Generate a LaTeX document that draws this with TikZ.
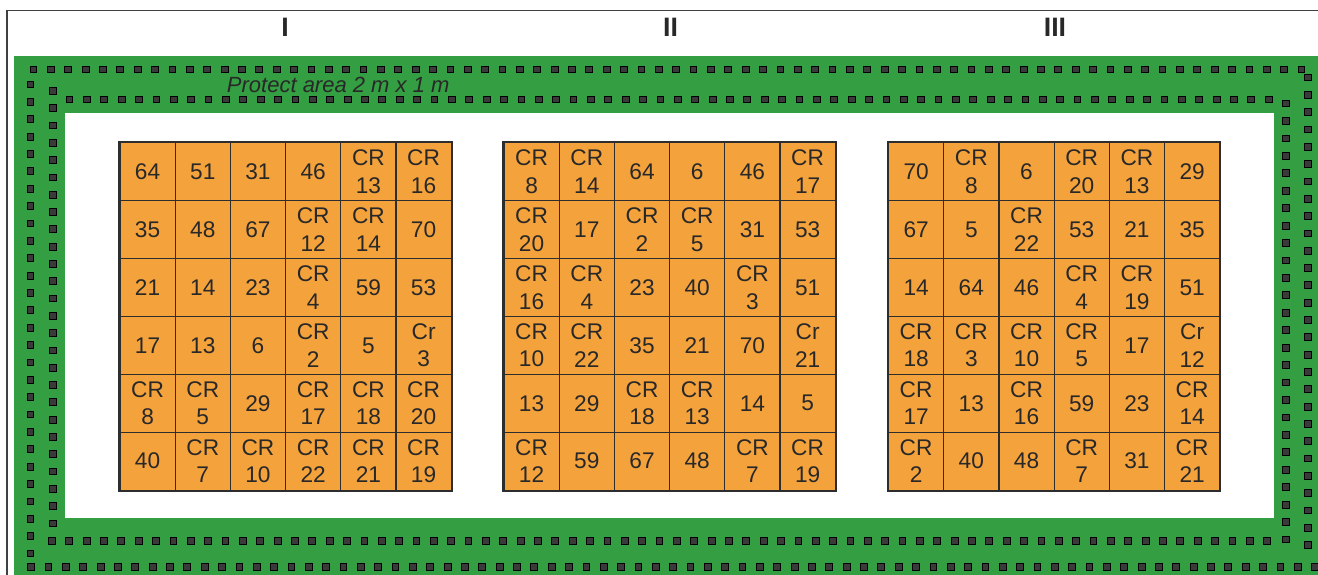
\documentclass[tikz,border=0pt]{standalone}
\usepackage{fontspec}
\setmainfont{Liberation Sans}
\definecolor{fieldgreen}{RGB}{52,158,66}
\definecolor{plotorange}{RGB}{244,162,60}
\definecolor{gridline}{RGB}{45,45,45}
\definecolor{txt}{RGB}{40,40,40}
\definecolor{dotfill}{RGB}{58,58,58}
\tikzset{
  cell/.style={draw=gridline, line width=0.9pt, fill=plotorange, minimum width=41.4pt,
    minimum height=43.43pt, inner sep=0pt, align=center, text=txt,
    font=\fontsize{17}{20.7}\selectfont},
  gridframe/.style={draw=gridline, line width=1.5pt},
  dotsq/.style={fill=dotfill, draw=black, line width=0.4pt},
  roman/.style={font=\fontsize{20}{22}\selectfont\bfseries, text=txt, inner sep=0pt},
  frameline/.style={draw=black!75, line width=0.9pt}
}
\newcommand\plotdot[2]{\filldraw[dotsq] ({#1-3.4},{#2-3.4}) rectangle ({#1+3.4},{#2+3.4});}
\newcommand\plotgrid[3]{%
  \foreach \rowlist [count=\ri] in {#3} {
    \foreach \t [count=\ci] in \rowlist {
      \node[cell] (#1-\ri-\ci) at ({#2+(\ci-0.5)*55.2},{142.7+(\ri-0.5)*57.9}) {\t};
    }
  }
  \draw[gridframe] (#1-1-1.north west) rectangle (#1-6-6.south east);
}
\begin{document}
\begin{tikzpicture}[x=0.75pt,y=-0.75pt]
\useasboundingbox (0,0) rectangle (1318,575);
\fill[white] (0,0) rectangle (1318,575);
% frame
\draw[frameline] (7,575) -- (7,10.7) -- (1318,10.7);
% field
\fill[fieldgreen] (14,56) rectangle (1318,575);
\fill[white] (65,113.3) rectangle (1274,518.3);
% outer ring of dots
\foreach \i in {0,...,73} {\plotdot{33.3+17.37*\i}{69.3}}
\foreach \i in {0,...,74} {\plotdot{31+17.35*\i}{566.5}}
\foreach \i in {0,...,27} {\plotdot{30.3}{84.3+17.37*\i}}
\foreach \i in {0,...,27} {\plotdot{1307.5}{77.3+17.32*\i}}
% inner ring of dots
\foreach \i in {0,...,69} {\plotdot{69.3+17.38*\i}{99.3}}
\foreach \i in {0,...,70} {\plotdot{51.7+17.36*\i}{540.7}}
\foreach \i in {0,...,25} {\plotdot{52.7}{90.7+17.3*\i}}
\foreach \i in {0,...,25} {\plotdot{1286}{103.3+17.44*\i}}
% label
\node[anchor=base west, inner sep=0pt, text=txt, font=\fontsize{16.5}{20}\selectfont\itshape] (protect) at (226.7,92.3) {Protect area 2 m x 1 m};
% replicate labels
\node[roman] (rI) at (285,27) {I};
\node[roman] (rII) at (670.5,27) {II};
\node[roman] (rIII) at (1055,27) {III};
% grids
\plotgrid{gA}{120}{
  {64,51,31,46,{CR\\13},{CR\\16}},
  {35,48,67,{CR\\12},{CR\\14},70},
  {21,14,23,{CR\\4},59,53},
  {17,13,6,{CR\\2},5,{Cr\\3}},
  {{CR\\8},{CR\\5},29,{CR\\17},{CR\\18},{CR\\20}},
  {40,{CR\\7},{CR\\10},{CR\\22},{CR\\21},{CR\\19}}}
\plotgrid{gB}{504}{
  {{CR\\8},{CR\\14},64,6,46,{CR\\17}},
  {{CR\\20},17,{CR\\2},{CR\\5},31,53},
  {{CR\\16},{CR\\4},23,40,{CR\\3},51},
  {{CR\\10},{CR\\22},35,21,70,{Cr\\21}},
  {13,29,{CR\\18},{CR\\13},14,5},
  {{CR\\12},59,67,48,{CR\\7},{CR\\19}}}
\plotgrid{gC}{888.5}{
  {70,{CR\\8},6,{CR\\20},{CR\\13},29},
  {67,5,{CR\\22},53,21,35},
  {14,64,46,{CR\\4},{CR\\19},51},
  {{CR\\18},{CR\\3},{CR\\10},{CR\\5},17,{Cr\\12}},
  {{CR\\17},13,{CR\\16},59,23,{CR\\14}},
  {{CR\\2},40,48,{CR\\7},31,{CR\\21}}}
\end{tikzpicture}
\end{document}
